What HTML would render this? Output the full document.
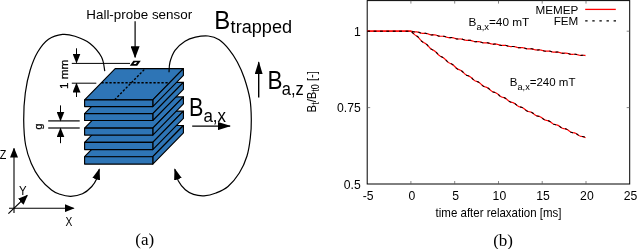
<!DOCTYPE html>
<html><head><meta charset="utf-8"><title>Figure</title>
<style>html,body{margin:0;padding:0;background:#fff}svg{display:block}text{font-family:"Liberation Sans",sans-serif;fill:#000}.s{font-family:"Liberation Serif",serif}</style></head><body>
<svg width="637" height="249" viewBox="0 0 637 249">
<rect width="637" height="249" fill="#fff"/>
<defs><marker id="ah" viewBox="0 0 10 8" refX="9" refY="4" markerWidth="10" markerHeight="8" markerUnits="userSpaceOnUse" orient="auto"><path d="M0,0 L10,4 L0,8 Z" fill="#000"/></marker><marker id="ab" viewBox="0 0 13 8" refX="12" refY="4" markerWidth="13" markerHeight="8" markerUnits="userSpaceOnUse" orient="auto"><path d="M0,0 L13,4 L0,8 Z" fill="#000"/></marker><marker id="af" viewBox="0 0 11.5 8" refX="10.5" refY="4" markerWidth="11.5" markerHeight="8" markerUnits="userSpaceOnUse" orient="auto"><path d="M0,0 L11.5,4 L0,8 Z" fill="#000"/></marker><marker id="as" viewBox="0 0 12 9" refX="11" refY="4.5" markerWidth="12" markerHeight="9" markerUnits="userSpaceOnUse" orient="auto"><path d="M0,0 L12,4.5 L0,9 Z" fill="#000"/></marker></defs>
<g fill="#2E75B6" stroke="#000" stroke-width="1.15" stroke-linejoin="round">
<polygon points="84.6,156.7 152.8,156.7 183.4,125.49999999999999 115.19999999999999,125.49999999999999"/>
<polygon points="152.8,156.7 183.4,125.49999999999999 183.4,132.89999999999998 152.8,164.1"/>
<rect x="84.6" y="156.7" width="68.20000000000002" height="7.4"/>
</g>
<g fill="#2E75B6" stroke="#000" stroke-width="1.15" stroke-linejoin="round">
<polygon points="84.6,142.3 152.8,142.3 183.4,111.10000000000001 115.19999999999999,111.10000000000001"/>
<polygon points="152.8,142.3 183.4,111.10000000000001 183.4,118.4 152.8,149.60000000000002"/>
<rect x="84.6" y="142.3" width="68.20000000000002" height="7.3"/>
</g>
<g fill="#2E75B6" stroke="#000" stroke-width="1.15" stroke-linejoin="round">
<polygon points="84.6,128.1 152.8,128.1 183.4,96.89999999999999 115.19999999999999,96.89999999999999"/>
<polygon points="152.8,128.1 183.4,96.89999999999999 183.4,103.89999999999999 152.8,135.1"/>
<rect x="84.6" y="128.1" width="68.20000000000002" height="7.0"/>
</g>
<g fill="#2E75B6" stroke="#000" stroke-width="1.15" stroke-linejoin="round">
<polygon points="84.6,113.6 152.8,113.6 183.4,82.39999999999999 115.19999999999999,82.39999999999999"/>
<polygon points="152.8,113.6 183.4,82.39999999999999 183.4,89.3 152.8,120.5"/>
<rect x="84.6" y="113.6" width="68.20000000000002" height="6.9"/>
</g>
<g fill="#2E75B6" stroke="#000" stroke-width="1.15" stroke-linejoin="round">
<polygon points="84.6,99.8 152.8,99.8 183.4,68.6 115.19999999999999,68.6"/>
<polygon points="152.8,99.8 183.4,68.6 183.4,75.39999999999999 152.8,106.6"/>
<rect x="84.6" y="99.8" width="68.20000000000002" height="6.8"/>
</g>
<line x1="101.4" y1="82.7" x2="169.6" y2="82.7" stroke="#000" stroke-width="1.35" stroke-dasharray="2.3,1.7"/>
<line x1="114.6" y1="99.8" x2="145.2" y2="68.6" stroke="#000" stroke-width="1.35" stroke-dasharray="2.3,1.7"/>
<path d="M104.8,71.2 C104.2,68.8 104.0,61.6 101.5,57.0 C99.0,52.4 94.4,47.0 90.0,43.5 C85.6,40.0 79.6,37.8 75.0,36.3 C70.4,34.8 66.9,33.9 62.5,34.4 C58.1,34.9 52.6,36.4 48.5,39.3 C44.4,42.2 40.8,46.9 37.7,52.0 C34.7,57.1 32.3,63.2 30.2,70.0 C28.1,76.8 26.4,84.7 25.3,93.0 C24.2,101.3 23.6,111.3 23.7,120.0 C23.8,128.7 24.3,137.8 25.6,145.0 C26.9,152.2 28.9,157.9 31.3,163.5 C33.7,169.1 36.4,173.9 39.8,178.3 C43.2,182.7 48.1,187.3 51.5,190.0 C54.9,192.7 56.8,193.2 60.0,194.3 C63.2,195.4 67.0,196.4 70.8,196.3 C74.5,196.2 79.0,195.4 82.5,193.8 C86.0,192.2 89.5,189.0 91.8,186.5 C94.1,184.0 95.3,181.9 96.6,179.0 C97.8,176.1 98.8,170.8 99.3,169.2" fill="none" stroke="#000" stroke-width="1.2" marker-end="url(#af)"/>
<path d="M169.0,72.2 C169.2,70.5 169.0,65.7 170.0,62.0 C171.0,58.4 172.5,53.8 175.0,50.3 C177.5,46.8 181.6,43.5 185.0,41.3 C188.4,39.1 191.6,38.1 195.5,37.2 C199.4,36.3 204.2,35.6 208.2,36.0 C212.1,36.4 215.7,37.5 219.2,39.8 C222.7,42.1 226.3,46.1 229.3,49.8 C232.3,53.5 234.8,57.3 237.3,62.0 C239.8,66.7 242.2,71.7 244.3,78.0 C246.4,84.3 248.8,92.6 250.0,99.6 C251.2,106.6 251.2,113.6 251.3,120.0 C251.4,126.4 251.0,132.0 250.3,138.0 C249.6,144.0 248.8,150.2 247.0,156.0 C245.2,161.8 242.5,167.9 239.3,173.0 C236.1,178.1 231.9,183.2 228.0,186.5 C224.1,189.8 220.0,191.4 216.0,193.0 C212.0,194.6 207.8,195.6 204.0,195.8 C200.2,196.0 196.6,195.4 193.5,194.4 C190.4,193.4 187.8,192.0 185.3,189.8 C182.8,187.6 180.2,184.4 178.4,181.0 C176.7,177.6 175.4,171.2 174.8,169.3" fill="none" stroke="#000" stroke-width="1.2" marker-end="url(#af)"/>
<polygon points="129.8,65.7 133.4,60.7 140.8,60.7 137.2,65.7" fill="#000"/><polygon points="133.5,64.1 134.8,62.3 137.1,62.3 135.8,64.1" fill="#fff"/>
<line x1="135.1" y1="21.3" x2="135.1" y2="57.2" stroke="#000" stroke-width="1.2" marker-end="url(#as)"/>
<text y="19.1" font-size="12.7"><tspan x="86.3" textLength="61.8" lengthAdjust="spacingAndGlyphs">Hall-probe</tspan> <tspan x="151.9" textLength="40.3" lengthAdjust="spacingAndGlyphs">sensor</tspan></text>
<line x1="71.8" y1="63.4" x2="130" y2="63.4" stroke="#000" stroke-width="1"/>
<line x1="71.8" y1="83.2" x2="96.3" y2="83.2" stroke="#000" stroke-width="1"/>
<line x1="76.5" y1="48.3" x2="76.5" y2="62.6" stroke="#000" stroke-width="1" marker-end="url(#ah)"/>
<line x1="76.5" y1="97" x2="76.5" y2="83.6" stroke="#000" stroke-width="1" marker-end="url(#ah)"/>
<text transform="translate(68.1,88.9) rotate(-90)" font-size="10.6" stroke="#000" stroke-width="0.25" textLength="29.2" lengthAdjust="spacingAndGlyphs">1 mm</text>
<line x1="48.2" y1="120.9" x2="79.7" y2="120.9" stroke="#000" stroke-width="1.2"/>
<line x1="48.2" y1="128.0" x2="79.7" y2="128.0" stroke="#000" stroke-width="1.2"/>
<line x1="60.5" y1="105.4" x2="60.5" y2="120.5" stroke="#000" stroke-width="1" marker-end="url(#ah)"/>
<line x1="60.5" y1="143.2" x2="60.5" y2="128.4" stroke="#000" stroke-width="1" marker-end="url(#ah)"/>
<text transform="translate(41.5,129.5) rotate(-90)" font-size="10.6" stroke="#000" stroke-width="0.25">g</text>
<line x1="14.0" y1="213" x2="14.0" y2="148.5" stroke="#000" stroke-width="1.1" marker-end="url(#ah)"/>
<line x1="9" y1="208.2" x2="73.6" y2="208.2" stroke="#000" stroke-width="1.1" marker-end="url(#ah)"/>
<line x1="8.4" y1="213.7" x2="27.2" y2="195.5" stroke="#000" stroke-width="1.1" marker-end="url(#ah)"/>
<text x="-0.3" y="158.9" font-size="13" textLength="6.6" lengthAdjust="spacingAndGlyphs">Z</text>
<text x="18.9" y="194.9" font-size="13" textLength="7.6" lengthAdjust="spacingAndGlyphs">Y</text>
<text x="65.6" y="225.6" font-size="13" textLength="6.8" lengthAdjust="spacingAndGlyphs">X</text>
<text x="214.3" y="29.2" font-size="25.8" textLength="16" lengthAdjust="spacingAndGlyphs">B</text>
<text x="230.6" y="32.7" font-size="17.5" textLength="61.5" lengthAdjust="spacingAndGlyphs">trapped</text>
<line x1="258.7" y1="97.5" x2="258.7" y2="62.2" stroke="#000" stroke-width="1.4" marker-end="url(#ab)"/>
<text x="267.5" y="89.2" font-size="25.2" textLength="15" lengthAdjust="spacingAndGlyphs">B</text>
<text x="281.8" y="95.4" font-size="17.5" textLength="22" lengthAdjust="spacingAndGlyphs">a,z</text>
<line x1="192.2" y1="126.1" x2="230" y2="126.1" stroke="#000" stroke-width="1.4" marker-end="url(#ab)"/>
<text x="189.0" y="115.9" font-size="25.4" textLength="14.4" lengthAdjust="spacingAndGlyphs">B</text>
<text x="203.4" y="121.6" font-size="17.5" textLength="22.6" lengthAdjust="spacingAndGlyphs">a,x</text>
<text class="s" x="135.3" y="245.4" font-size="17">(a)</text>
<rect x="367.2" y="0.6" width="262.50000000000006" height="183.4" fill="none" stroke="#000" stroke-width="1"/>
<text x="368.1" y="200.1" font-size="12.2" text-anchor="middle">-5</text>
<line x1="410.9" y1="184.0" x2="410.9" y2="181.0" stroke="#555" stroke-width="0.7"/>
<line x1="410.9" y1="0.6" x2="410.9" y2="3.6" stroke="#555" stroke-width="0.7"/>
<text x="411.8" y="200.1" font-size="12.2" text-anchor="middle">0</text>
<line x1="454.7" y1="184.0" x2="454.7" y2="181.0" stroke="#555" stroke-width="0.7"/>
<line x1="454.7" y1="0.6" x2="454.7" y2="3.6" stroke="#555" stroke-width="0.7"/>
<text x="455.6" y="200.1" font-size="12.2" text-anchor="middle">5</text>
<line x1="498.5" y1="184.0" x2="498.5" y2="181.0" stroke="#555" stroke-width="0.7"/>
<line x1="498.5" y1="0.6" x2="498.5" y2="3.6" stroke="#555" stroke-width="0.7"/>
<text x="499.4" y="200.1" font-size="12.2" text-anchor="middle">10</text>
<line x1="542.2" y1="184.0" x2="542.2" y2="181.0" stroke="#555" stroke-width="0.7"/>
<line x1="542.2" y1="0.6" x2="542.2" y2="3.6" stroke="#555" stroke-width="0.7"/>
<text x="543.1" y="200.1" font-size="12.2" text-anchor="middle">15</text>
<line x1="586.0" y1="184.0" x2="586.0" y2="181.0" stroke="#555" stroke-width="0.7"/>
<line x1="586.0" y1="0.6" x2="586.0" y2="3.6" stroke="#555" stroke-width="0.7"/>
<text x="586.9" y="200.1" font-size="12.2" text-anchor="middle">20</text>
<text x="630.6" y="200.1" font-size="12.2" text-anchor="middle">25</text>
<text x="360.8" y="188.8" font-size="12.2" text-anchor="end">0.5</text>
<line x1="367.2" y1="107.6" x2="370.2" y2="107.6" stroke="#555" stroke-width="0.7"/>
<line x1="629.7" y1="107.6" x2="626.7" y2="107.6" stroke="#555" stroke-width="0.7"/>
<text x="360.8" y="112.4" font-size="12.2" text-anchor="end">0.75</text>
<line x1="367.2" y1="31.2" x2="370.2" y2="31.2" stroke="#555" stroke-width="0.7"/>
<line x1="629.7" y1="31.2" x2="626.7" y2="31.2" stroke="#555" stroke-width="0.7"/>
<text x="360.8" y="36.0" font-size="12.2" text-anchor="end">1</text>
<path d="M367.2,31.2 L411.0,31.17 411.5,31.26 412.0,31.37 412.5,31.48 413.0,31.59 413.5,31.70 414.0,31.79 414.5,31.85 415.0,31.90 415.5,31.92 416.0,31.94 416.5,31.95 417.0,31.97 417.5,32.03 418.0,32.13 418.5,32.26 419.0,32.41 419.5,32.57 420.0,32.74 420.5,32.91 421.0,33.06 421.5,33.19 422.0,33.28 422.5,33.35 423.0,33.39 423.5,33.40 424.0,33.40 424.5,33.40 425.0,33.40 425.5,33.42 426.0,33.47 426.5,33.54 427.0,33.65 427.5,33.79 428.0,33.94 428.5,34.11 429.0,34.28 429.5,34.44 430.0,34.58 430.5,34.69 431.0,34.77 431.5,34.82 432.0,34.84 432.5,34.85 433.0,34.84 433.5,34.84 434.0,34.85 434.5,34.88 435.0,34.94 435.5,35.02 436.0,35.14 436.5,35.29 437.0,35.45 437.5,35.62 438.0,35.78 438.5,35.93 439.0,36.05 439.5,36.15 440.0,36.21 440.5,36.25 441.0,36.26 441.5,36.26 442.0,36.25 442.5,36.25 443.0,36.26 443.5,36.30 444.0,36.37 444.5,36.48 445.0,36.61 445.5,36.76 446.0,36.92 446.5,37.09 447.0,37.24 447.5,37.38 448.0,37.49 448.5,37.57 449.0,37.62 449.5,37.64 450.0,37.64 450.5,37.63 451.0,37.62 451.5,37.63 452.0,37.65 452.5,37.71 453.0,37.79 453.5,37.90 454.0,38.04 454.5,38.20 455.0,38.36 455.5,38.52 456.0,38.67 456.5,38.79 457.0,38.89 457.5,38.95 458.0,38.98 458.5,38.99 459.0,38.99 459.5,38.98 460.0,38.97 460.5,38.98 461.0,39.02 461.5,39.08 462.0,39.18 462.5,39.30 463.0,39.45 463.5,39.61 464.0,39.77 464.5,39.92 465.0,40.06 465.5,40.17 466.0,40.25 466.5,40.29 467.0,40.31 467.5,40.31 468.0,40.30 468.5,40.29 469.0,40.29 469.5,40.31 470.0,40.36 470.5,40.43 471.0,40.54 471.5,40.68 472.0,40.83 472.5,40.99 473.0,41.15 473.5,41.29 474.0,41.41 474.5,41.51 475.0,41.57 475.5,41.60 476.0,41.61 476.5,41.60 477.0,41.59 477.5,41.58 478.0,41.59 478.5,41.62 479.0,41.67 479.5,41.76 480.0,41.88 480.5,42.03 481.0,42.18 481.5,42.34 482.0,42.49 482.5,42.63 483.0,42.73 483.5,42.81 484.0,42.86 484.5,42.88 485.0,42.88 485.5,42.86 486.0,42.85 486.5,42.84 487.0,42.86 487.5,42.90 488.0,42.97 488.5,43.07 489.0,43.20 489.5,43.35 490.0,43.51 490.5,43.66 491.0,43.81 491.5,43.93 492.0,44.02 492.5,44.08 493.0,44.12 493.5,44.12 494.0,44.11 494.5,44.10 495.0,44.08 495.5,44.08 496.0,44.11 496.5,44.16 497.0,44.25 497.5,44.36 498.0,44.50 498.5,44.65 499.0,44.81 499.5,44.96 500.0,45.09 500.5,45.20 501.0,45.28 501.5,45.32 502.0,45.34 502.5,45.34 503.0,45.32 503.5,45.30 504.0,45.30 504.5,45.31 505.0,45.34 505.5,45.41 506.0,45.51 506.5,45.63 507.0,45.77 507.5,45.93 508.0,46.08 508.5,46.22 509.0,46.34 509.5,46.44 510.0,46.50 510.5,46.53 511.0,46.54 511.5,46.53 512.0,46.51 512.5,46.49 513.0,46.49 513.5,46.51 514.0,46.56 514.5,46.63 515.0,46.74 515.5,46.88 516.0,47.03 516.5,47.18 517.0,47.33 517.5,47.46 518.0,47.57 518.5,47.65 519.0,47.69 519.5,47.71 520.0,47.71 520.5,47.69 521.0,47.67 521.5,47.65 522.0,47.66 522.5,47.69 523.0,47.75 523.5,47.84 524.0,47.96 524.5,48.10 525.0,48.26 525.5,48.41 526.0,48.55 526.5,48.67 527.0,48.76 527.5,48.82 528.0,48.86 528.5,48.86 529.0,48.85 529.5,48.83 530.0,48.81 530.5,48.80 531.0,48.81 531.5,48.86 532.0,48.93 532.5,49.04 533.0,49.17 533.5,49.31 534.0,49.46 534.5,49.61 535.0,49.74 535.5,49.85 536.0,49.93 536.5,49.97 537.0,49.99 537.5,49.99 538.0,49.97 538.5,49.94 539.0,49.93 539.5,49.93 540.0,49.95 540.5,50.01 541.0,50.10 541.5,50.21 542.0,50.35 542.5,50.50 543.0,50.65 543.5,50.79 544.0,50.91 544.5,51.00 545.0,51.06 545.5,51.09 546.0,51.10 546.5,51.09 547.0,51.06 547.5,51.04 548.0,51.03 548.5,51.04 549.0,51.08 549.5,51.15 550.0,51.25 550.5,51.37 551.0,51.52 551.5,51.66 552.0,51.81 552.5,51.94 553.0,52.05 553.5,52.13 554.0,52.17 554.5,52.19 555.0,52.18 555.5,52.16 556.0,52.14 556.5,52.12 557.0,52.12 557.5,52.14 558.0,52.19 558.5,52.27 559.0,52.38 559.5,52.52 560.0,52.66 560.5,52.81 561.0,52.95 561.5,53.07 562.0,53.16 562.5,53.22 563.0,53.26 563.5,53.26 564.0,53.25 564.5,53.22 565.0,53.19 565.5,53.18 566.0,53.19 566.5,53.22 567.0,53.29 567.5,53.38 568.0,53.50 568.5,53.64 569.0,53.79 569.5,53.93 570.0,54.06 570.5,54.17 571.0,54.25 571.5,54.30 572.0,54.31 572.5,54.31 573.0,54.29 573.5,54.26 574.0,54.24 574.5,54.23 575.0,54.25 575.5,54.29 576.0,54.37 576.5,54.48 577.0,54.61 577.5,54.75 578.0,54.90 578.5,55.04 579.0,55.16 579.5,55.25 580.0,55.31 580.5,55.34 581.0,55.35 581.5,55.33 582.0,55.31 582.5,55.28 583.0,55.26 583.5,55.26 584.0,55.29 584.5,55.35 585.0,55.45 585.5,55.56" fill="none" stroke="#f00" stroke-width="1.2" stroke-linejoin="round"/>
<path d="M367.2,31.2 L411.0,31.17 411.5,31.26 412.0,31.38 412.5,31.50 413.0,31.63 413.5,31.74 414.0,31.83 414.5,31.89 415.0,31.92 415.5,31.92 416.0,31.90 416.5,31.88 417.0,31.87 417.5,31.93 418.0,32.03 418.5,32.17 419.0,32.35 419.5,32.55 420.0,32.76 420.5,32.96 421.0,33.14 421.5,33.29 422.0,33.39 422.5,33.45 423.0,33.46 423.5,33.45 424.0,33.41 424.5,33.37 425.0,33.34 425.5,33.33 426.0,33.37 426.5,33.44 427.0,33.56 427.5,33.72 428.0,33.90 428.5,34.11 429.0,34.31 429.5,34.50 430.0,34.67 430.5,34.79 431.0,34.87 431.5,34.91 432.0,34.91 432.5,34.88 433.0,34.84 433.5,34.80 434.0,34.77 434.5,34.78 435.0,34.83 435.5,34.92 436.0,35.06 436.5,35.23 437.0,35.43 437.5,35.63 438.0,35.83 438.5,36.01 439.0,36.15 439.5,36.25 440.0,36.31 440.5,36.33 441.0,36.31 441.5,36.27 442.0,36.23 442.5,36.19 443.0,36.18 443.5,36.20 444.0,36.27 444.5,36.38 445.0,36.53 445.5,36.71 446.0,36.91 446.5,37.12 447.0,37.31 447.5,37.47 448.0,37.59 448.5,37.67 449.0,37.71 449.5,37.71 450.0,37.68 450.5,37.63 451.0,37.59 451.5,37.56 452.0,37.56 452.5,37.60 453.0,37.69 453.5,37.82 454.0,37.98 454.5,38.17 455.0,38.37 455.5,38.57 456.0,38.74 456.5,38.89 457.0,38.99 457.5,39.05 458.0,39.07 458.5,39.05 459.0,39.01 459.5,38.96 460.0,38.92 460.5,38.90 461.0,38.92 461.5,38.98 462.0,39.08 462.5,39.23 463.0,39.40 463.5,39.60 464.0,39.80 464.5,39.98 465.0,40.15 465.5,40.27 466.0,40.35 466.5,40.39 467.0,40.38 467.5,40.35 468.0,40.30 468.5,40.26 469.0,40.22 469.5,40.22 470.0,40.25 470.5,40.33 471.0,40.45 471.5,40.61 472.0,40.80 472.5,41.00 473.0,41.19 473.5,41.37 474.0,41.51 474.5,41.61 475.0,41.67 475.5,41.69 476.0,41.67 476.5,41.62 477.0,41.57 477.5,41.53 478.0,41.50 478.5,41.52 479.0,41.57 479.5,41.67 480.0,41.81 480.5,41.98 481.0,42.17 481.5,42.37 482.0,42.55 482.5,42.71 483.0,42.84 483.5,42.92 484.0,42.95 484.5,42.95 485.0,42.92 485.5,42.87 486.0,42.81 486.5,42.78 487.0,42.77 487.5,42.80 488.0,42.87 488.5,42.98 489.0,43.14 489.5,43.32 490.0,43.51 490.5,43.71 491.0,43.88 491.5,44.02 492.0,44.13 492.5,44.19 493.0,44.20 493.5,44.18 494.0,44.14 494.5,44.08 495.0,44.03 495.5,44.01 496.0,44.01 496.5,44.06 497.0,44.15 497.5,44.28 498.0,44.45 498.5,44.64 499.0,44.83 499.5,45.01 500.0,45.17 500.5,45.30 501.0,45.38 501.5,45.42 502.0,45.42 502.5,45.38 503.0,45.33 503.5,45.27 504.0,45.23 504.5,45.22 505.0,45.24 505.5,45.30 506.0,45.41 506.5,45.56 507.0,45.74 507.5,45.93 508.0,46.12 508.5,46.29 509.0,46.44 509.5,46.54 510.0,46.60 510.5,46.62 511.0,46.60 511.5,46.55 512.0,46.50 512.5,46.44 513.0,46.41 513.5,46.41 514.0,46.45 514.5,46.54 515.0,46.66 515.5,46.82 516.0,47.01 516.5,47.20 517.0,47.38 517.5,47.54 518.0,47.67 518.5,47.75 519.0,47.79 519.5,47.79 520.0,47.75 520.5,47.70 521.0,47.64 521.5,47.59 522.0,47.57 522.5,47.59 523.0,47.65 523.5,47.75 524.0,47.89 524.5,48.07 525.0,48.25 525.5,48.44 526.0,48.62 526.5,48.76 527.0,48.87 527.5,48.93 528.0,48.94 528.5,48.92 529.0,48.88 529.5,48.82 530.0,48.76 530.5,48.72 531.0,48.72 531.5,48.75 532.0,48.83 532.5,48.95 533.0,49.11 533.5,49.29 534.0,49.48 534.5,49.66 535.0,49.82 535.5,49.95 536.0,50.03 536.5,50.07 537.0,50.07 537.5,50.03 538.0,49.98 538.5,49.92 539.0,49.87 539.5,49.84 540.0,49.85 540.5,49.91 541.0,50.00 541.5,50.14 542.0,50.31 542.5,50.49 543.0,50.68 543.5,50.85 544.0,51.00 544.5,51.10 545.0,51.17 545.5,51.18 546.0,51.17 546.5,51.12 547.0,51.06 547.5,51.00 548.0,50.96 548.5,50.95 549.0,50.97 549.5,51.05 550.0,51.16 550.5,51.32 551.0,51.49 551.5,51.68 552.0,51.86 552.5,52.02 553.0,52.15 553.5,52.23 554.0,52.27 554.5,52.27 555.0,52.24 555.5,52.18 556.0,52.12 556.5,52.06 557.0,52.03 557.5,52.04 558.0,52.08 558.5,52.18 559.0,52.31 559.5,52.47 560.0,52.66 560.5,52.84 561.0,53.01 561.5,53.16 562.0,53.26 562.5,53.33 563.0,53.35 563.5,53.33 564.0,53.28 564.5,53.22 565.0,53.16 565.5,53.11 566.0,53.09 566.5,53.12 567.0,53.19 567.5,53.30 568.0,53.44 568.5,53.62 569.0,53.80 569.5,53.98 570.0,54.14 570.5,54.27 571.0,54.35 571.5,54.40 572.0,54.40 572.5,54.36 573.0,54.30 573.5,54.24 574.0,54.18 574.5,54.15 575.0,54.15 575.5,54.19 576.0,54.28 576.5,54.40 577.0,54.56 577.5,54.74 578.0,54.93 578.5,55.10 579.0,55.24 579.5,55.35 580.0,55.42 580.5,55.44 581.0,55.42 581.5,55.37 582.0,55.31 582.5,55.24 583.0,55.19 583.5,55.17 584.0,55.19 584.5,55.25 585.0,55.36 585.5,55.50" fill="none" stroke="#000" stroke-width="1.05" stroke-dasharray="2.8,3.6" stroke-linejoin="round"/>
<path d="M367.2,31.2 L411.0,31.17 411.5,31.64 412.0,32.13 412.5,32.63 413.0,33.12 413.5,33.61 414.0,34.07 414.5,34.49 415.0,34.87 415.5,35.23 416.0,35.56 416.5,35.89 417.0,36.24 417.5,36.65 418.0,37.10 418.5,37.61 419.0,38.15 419.5,38.71 420.0,39.28 420.5,39.85 421.0,40.39 421.5,40.88 422.0,41.34 422.5,41.74 423.0,42.09 423.5,42.41 424.0,42.70 424.5,42.99 425.0,43.28 425.5,43.61 426.0,43.97 426.5,44.38 427.0,44.84 427.5,45.33 428.0,45.86 428.5,46.41 429.0,46.96 429.5,47.49 430.0,47.99 430.5,48.45 431.0,48.85 431.5,49.21 432.0,49.52 432.5,49.80 433.0,50.07 433.5,50.34 434.0,50.62 434.5,50.94 435.0,51.31 435.5,51.72 436.0,52.17 436.5,52.67 437.0,53.19 437.5,53.72 438.0,54.24 438.5,54.73 439.0,55.19 439.5,55.61 440.0,55.97 440.5,56.29 441.0,56.56 441.5,56.82 442.0,57.06 442.5,57.32 443.0,57.60 443.5,57.92 444.0,58.28 444.5,58.70 445.0,59.15 445.5,59.64 446.0,60.15 446.5,60.66 447.0,61.15 447.5,61.62 448.0,62.04 448.5,62.41 449.0,62.73 449.5,63.01 450.0,63.26 450.5,63.49 451.0,63.72 451.5,63.97 452.0,64.25 452.5,64.57 453.0,64.94 453.5,65.35 454.0,65.81 454.5,66.29 455.0,66.79 455.5,67.27 456.0,67.74 456.5,68.17 457.0,68.55 457.5,68.88 458.0,69.17 458.5,69.41 459.0,69.63 459.5,69.85 460.0,70.07 460.5,70.31 461.0,70.59 461.5,70.92 462.0,71.30 462.5,71.72 463.0,72.17 463.5,72.65 464.0,73.13 464.5,73.59 465.0,74.02 465.5,74.42 466.0,74.76 466.5,75.06 467.0,75.31 467.5,75.53 468.0,75.73 468.5,75.92 469.0,76.14 469.5,76.39 470.0,76.67 470.5,77.01 471.0,77.39 471.5,77.82 472.0,78.27 472.5,78.73 473.0,79.19 473.5,79.63 474.0,80.03 474.5,80.39 475.0,80.70 475.5,80.96 476.0,81.18 476.5,81.37 477.0,81.56 477.5,81.75 478.0,81.96 478.5,82.21 479.0,82.51 479.5,82.85 480.0,83.24 480.5,83.67 481.0,84.11 481.5,84.57 482.0,85.00 482.5,85.42 483.0,85.78 483.5,86.11 484.0,86.38 484.5,86.61 485.0,86.80 485.5,86.98 486.0,87.15 486.5,87.34 487.0,87.55 487.5,87.81 488.0,88.12 488.5,88.47 489.0,88.87 489.5,89.29 490.0,89.73 490.5,90.17 491.0,90.58 491.5,90.96 492.0,91.30 492.5,91.59 493.0,91.83 493.5,92.03 494.0,92.20 494.5,92.36 495.0,92.52 495.5,92.71 496.0,92.93 496.5,93.20 497.0,93.52 497.5,93.88 498.0,94.28 498.5,94.71 499.0,95.13 499.5,95.55 500.0,95.94 500.5,96.29 501.0,96.60 501.5,96.85 502.0,97.06 502.5,97.23 503.0,97.38 503.5,97.53 504.0,97.70 504.5,97.89 505.0,98.12 505.5,98.40 506.0,98.73 506.5,99.10 507.0,99.51 507.5,99.92 508.0,100.34 508.5,100.73 509.0,101.10 509.5,101.42 510.0,101.69 510.5,101.91 511.0,102.09 511.5,102.24 512.0,102.38 512.5,102.52 513.0,102.69 513.5,102.89 514.0,103.14 514.5,103.43 515.0,103.77 515.5,104.14 516.0,104.55 516.5,104.95 517.0,105.35 517.5,105.73 518.0,106.06 518.5,106.35 519.0,106.59 519.5,106.78 520.0,106.93 520.5,107.07 521.0,107.20 521.5,107.34 522.0,107.51 522.5,107.72 523.0,107.98 523.5,108.29 524.0,108.64 524.5,109.02 525.0,109.42 525.5,109.81 526.0,110.19 526.5,110.54 527.0,110.85 527.5,111.10 528.0,111.31 528.5,111.47 529.0,111.61 529.5,111.73 530.0,111.86 530.5,112.00 531.0,112.18 531.5,112.41 532.0,112.68 532.5,113.00 533.0,113.35 533.5,113.73 534.0,114.12 534.5,114.51 535.0,114.87 535.5,115.19 536.0,115.46 536.5,115.69 537.0,115.86 537.5,116.01 538.0,116.13 538.5,116.24 539.0,116.36 539.5,116.51 540.0,116.71 540.5,116.94 541.0,117.23 541.5,117.56 542.0,117.92 542.5,118.30 543.0,118.68 543.5,119.05 544.0,119.38 544.5,119.68 545.0,119.92 545.5,120.11 546.0,120.27 546.5,120.39 547.0,120.50 547.5,120.60 548.0,120.73 548.5,120.89 549.0,121.10 549.5,121.35 550.0,121.65 550.5,121.99 551.0,122.35 551.5,122.73 552.0,123.10 552.5,123.44 553.0,123.75 553.5,124.01 554.0,124.23 554.5,124.39 555.0,124.52 555.5,124.63 556.0,124.73 556.5,124.84 557.0,124.97 557.5,125.14 558.0,125.36 558.5,125.63 559.0,125.94 559.5,126.29 560.0,126.65 560.5,127.02 561.0,127.37 561.5,127.70 562.0,127.98 562.5,128.21 563.0,128.40 563.5,128.54 564.0,128.65 564.5,128.74 565.0,128.83 565.5,128.95 566.0,129.09 566.5,129.28 567.0,129.51 567.5,129.79 568.0,130.11 568.5,130.46 569.0,130.83 569.5,131.18 570.0,131.52 570.5,131.82 571.0,132.07 571.5,132.27 572.0,132.43 572.5,132.55 573.0,132.64 573.5,132.73 574.0,132.82 574.5,132.94 575.0,133.10 575.5,133.30 576.0,133.55 576.5,133.85 577.0,134.18 577.5,134.53 578.0,134.88 578.5,135.23 579.0,135.54 579.5,135.81 580.0,136.04 580.5,136.21 581.0,136.34 581.5,136.44 582.0,136.52 582.5,136.61 583.0,136.70 583.5,136.83 584.0,137.00 584.5,137.22 585.0,137.49 585.5,137.79" fill="none" stroke="#f00" stroke-width="1.2" stroke-linejoin="round"/>
<path d="M367.2,31.2 L411.0,31.17 411.5,31.64 412.0,32.15 412.5,32.66 413.0,33.18 413.5,33.68 414.0,34.13 414.5,34.54 415.0,34.90 415.5,35.22 416.0,35.50 416.5,35.78 417.0,36.08 417.5,36.48 418.0,36.95 418.5,37.48 419.0,38.06 419.5,38.68 420.0,39.31 420.5,39.93 421.0,40.51 421.5,41.04 422.0,41.50 422.5,41.89 423.0,42.21 423.5,42.48 424.0,42.72 424.5,42.95 425.0,43.19 425.5,43.47 426.0,43.81 426.5,44.22 427.0,44.69 427.5,45.22 428.0,45.80 428.5,46.41 429.0,47.01 429.5,47.60 430.0,48.13 430.5,48.61 431.0,49.01 431.5,49.35 432.0,49.62 432.5,49.85 433.0,50.06 433.5,50.27 434.0,50.51 434.5,50.79 435.0,51.14 435.5,51.56 436.0,52.04 436.5,52.58 437.0,53.15 437.5,53.74 438.0,54.32 438.5,54.86 439.0,55.35 439.5,55.77 440.0,56.12 440.5,56.41 441.0,56.64 441.5,56.84 442.0,57.03 442.5,57.23 443.0,57.47 443.5,57.76 444.0,58.12 444.5,58.55 445.0,59.04 445.5,59.57 446.0,60.14 446.5,60.71 447.0,61.25 447.5,61.76 448.0,62.20 448.5,62.57 449.0,62.87 449.5,63.12 450.0,63.31 450.5,63.48 451.0,63.66 451.5,63.85 452.0,64.10 452.5,64.40 453.0,64.78 453.5,65.22 454.0,65.72 454.5,66.25 455.0,66.80 455.5,67.35 456.0,67.86 456.5,68.32 457.0,68.71 457.5,69.04 458.0,69.30 458.5,69.50 459.0,69.66 459.5,69.82 460.0,69.98 460.5,70.18 461.0,70.44 461.5,70.76 462.0,71.15 462.5,71.60 463.0,72.10 463.5,72.63 464.0,73.17 464.5,73.69 465.0,74.16 465.5,74.58 466.0,74.93 466.5,75.20 467.0,75.42 467.5,75.58 468.0,75.73 468.5,75.87 469.0,76.03 469.5,76.24 470.0,76.51 470.5,76.85 471.0,77.26 471.5,77.72 472.0,78.22 472.5,78.75 473.0,79.26 473.5,79.75 474.0,80.18 474.5,80.55 475.0,80.85 475.5,81.09 476.0,81.26 476.5,81.40 477.0,81.53 477.5,81.66 478.0,81.83 478.5,82.06 479.0,82.34 479.5,82.70 480.0,83.12 480.5,83.59 481.0,84.10 481.5,84.61 482.0,85.10 482.5,85.55 483.0,85.94 483.5,86.27 484.0,86.53 484.5,86.72 485.0,86.86 485.5,86.98 486.0,87.10 486.5,87.23 487.0,87.41 487.5,87.65 488.0,87.96 488.5,88.33 489.0,88.77 489.5,89.24 490.0,89.74 490.5,90.23 491.0,90.70 491.5,91.11 492.0,91.46 492.5,91.75 493.0,91.96 493.5,92.12 494.0,92.23 494.5,92.33 495.0,92.44 495.5,92.59 496.0,92.78 496.5,93.04 497.0,93.37 497.5,93.76 498.0,94.20 498.5,94.68 499.0,95.17 499.5,95.64 500.0,96.07 500.5,96.45 501.0,96.76 501.5,97.00 502.0,97.17 502.5,97.30 503.0,97.39 503.5,97.49 504.0,97.60 504.5,97.75 505.0,97.96 505.5,98.24 506.0,98.59 506.5,99.00 507.0,99.45 507.5,99.93 508.0,100.40 508.5,100.84 509.0,101.24 509.5,101.58 510.0,101.85 510.5,102.04 511.0,102.18 511.5,102.28 512.0,102.36 512.5,102.45 513.0,102.57 513.5,102.74 514.0,102.97 514.5,103.27 515.0,103.64 515.5,104.06 516.0,104.52 516.5,104.98 517.0,105.44 517.5,105.86 518.0,106.22 518.5,106.51 519.0,106.74 519.5,106.90 520.0,107.01 520.5,107.08 521.0,107.16 521.5,107.25 522.0,107.38 522.5,107.56 523.0,107.82 523.5,108.14 524.0,108.53 524.5,108.96 525.0,109.41 525.5,109.87 526.0,110.30 526.5,110.69 527.0,111.01 527.5,111.26 528.0,111.45 528.5,111.57 529.0,111.66 529.5,111.72 530.0,111.79 530.5,111.88 531.0,112.03 531.5,112.24 532.0,112.52 532.5,112.86 533.0,113.26 533.5,113.70 534.0,114.15 534.5,114.59 535.0,114.99 535.5,115.34 536.0,115.63 536.5,115.84 537.0,115.99 537.5,116.08 538.0,116.15 538.5,116.20 539.0,116.27 539.5,116.38 540.0,116.55 540.5,116.78 541.0,117.08 541.5,117.45 542.0,117.86 542.5,118.29 543.0,118.73 543.5,119.15 544.0,119.53 544.5,119.84 545.0,120.08 545.5,120.25 546.0,120.37 546.5,120.44 547.0,120.49 547.5,120.54 548.0,120.62 548.5,120.74 549.0,120.93 549.5,121.19 550.0,121.51 550.5,121.89 551.0,122.31 551.5,122.75 552.0,123.17 552.5,123.57 553.0,123.90 553.5,124.18 554.0,124.38 554.5,124.52 555.0,124.60 555.5,124.65 556.0,124.69 556.5,124.75 557.0,124.84 557.5,124.98 558.0,125.20 558.5,125.48 559.0,125.82 559.5,126.22 560.0,126.64 560.5,127.07 561.0,127.47 561.5,127.84 562.0,128.14 562.5,128.37 563.0,128.54 563.5,128.64 564.0,128.70 564.5,128.74 565.0,128.77 565.5,128.83 566.0,128.94 566.5,129.11 567.0,129.35 567.5,129.66 568.0,130.02 568.5,130.42 569.0,130.84 569.5,131.26 570.0,131.64 570.5,131.97 571.0,132.23 571.5,132.43 572.0,132.56 572.5,132.63 573.0,132.67 573.5,132.70 574.0,132.74 574.5,132.81 575.0,132.94 575.5,133.13 576.0,133.40 576.5,133.73 577.0,134.10 577.5,134.51 578.0,134.93 578.5,135.32 579.0,135.68 579.5,135.97 580.0,136.20 580.5,136.36 581.0,136.45 581.5,136.50 582.0,136.53 582.5,136.55 583.0,136.60 583.5,136.69 584.0,136.84 584.5,137.06 585.0,137.35 585.5,137.69" fill="none" stroke="#000" stroke-width="1.05" stroke-dasharray="2.8,3.6" stroke-linejoin="round"/>
<text x="578.3" y="13.5" font-size="11.7" text-anchor="end">MEMEP</text>
<line x1="585.2" y1="9.4" x2="615.8" y2="9.4" stroke="#f00" stroke-width="1.3"/>
<text x="578.3" y="24.8" font-size="11.7" text-anchor="end">FEM</text>
<line x1="585.2" y1="20.9" x2="616.5" y2="20.9" stroke="#000" stroke-width="1.3" stroke-dasharray="2.4,4.7"/>
<text x="468.6" y="26.1" font-size="11.8">B<tspan font-size="9.4" dy="3.5">a,x</tspan><tspan dy="-3.5">=40 mT</tspan></text>
<text x="509.8" y="86.1" font-size="11.5">B<tspan font-size="9.2" dy="3.5">a,x</tspan><tspan dy="-3.5">=240 mT</tspan></text>
<text transform="translate(498.5,217.3) scale(1,1.06)" font-size="11.5" text-anchor="middle">time after relaxation [ms]</text>
<text transform="translate(315.6,112.4) rotate(-90) scale(1,1.2)" font-size="11.3">B<tspan font-size="9" dy="2.5">t</tspan><tspan dy="-2.5">/B</tspan><tspan font-size="9" dy="2.5">t0</tspan><tspan dy="-2.5"> [-]</tspan></text>
<text class="s" x="493.2" y="245.6" font-size="17">(b)</text>
</svg></body></html>
